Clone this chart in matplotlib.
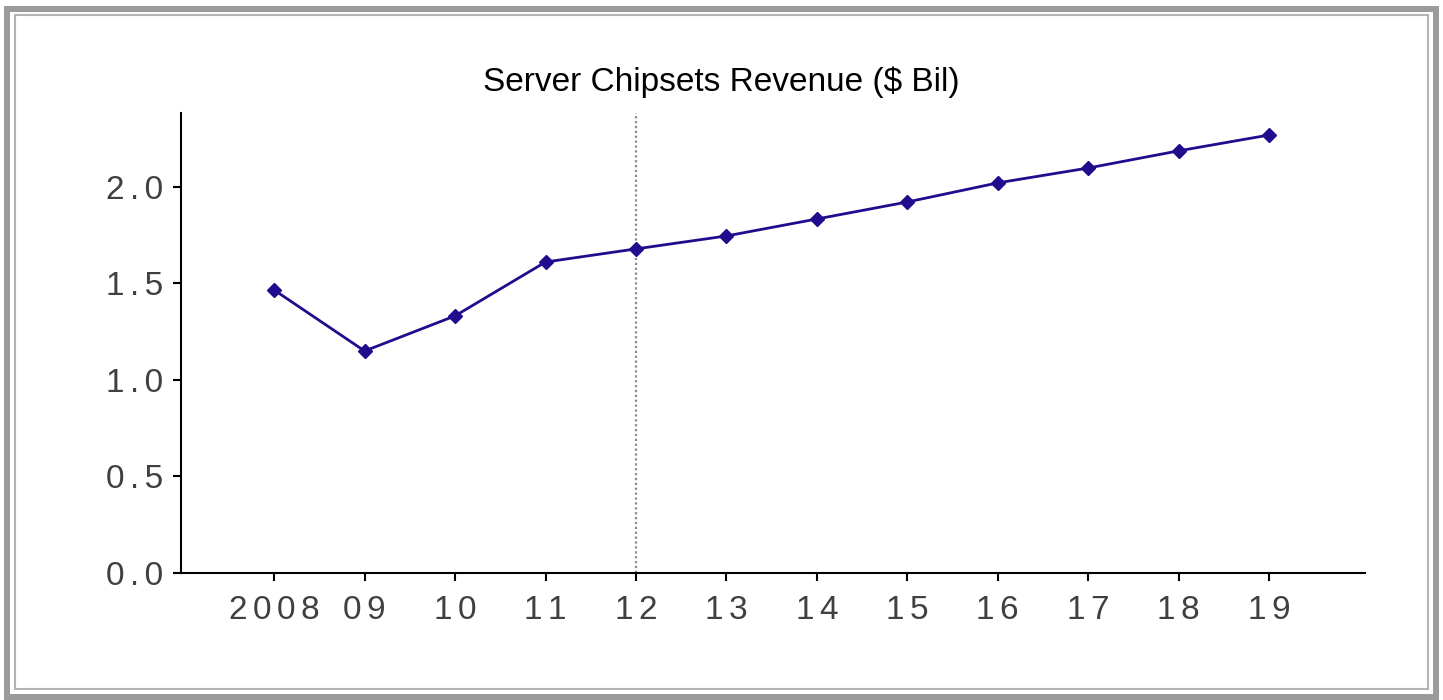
import matplotlib
matplotlib.use("Agg")
import matplotlib.pyplot as plt
from matplotlib.patches import Rectangle

plt.rcParams['font.family'] = ['Liberation Sans', 'DejaVu Sans']

# ---- data ----
years = ["2008", "09", "10", "11", "12", "13", "14", "15", "16", "17", "18", "19"]
revenue = [1.466, 1.150, 1.332, 1.611, 1.679, 1.746, 1.834, 1.922, 2.021, 2.098, 2.187, 2.269]
yticks = [0.0, 0.5, 1.0, 1.5, 2.0]
ytick_labels = ["0.0", "0.5", "1.0", "1.5", "2.0"]
forecast_start = "12"
title = "Server Chipsets Revenue ($ Bil)"

W, H = 1443, 700
fig = plt.figure(figsize=(W / 100, H / 100), dpi=100)


def px_rect(x0, y0, x1, y1, **kw):
    return Rectangle((x0 / W, 1 - y1 / H), (x1 - x0) / W, (y1 - y0) / H,
                     transform=fig.transFigure, **kw)


# frame
fig.patches.append(px_rect(4, 6, 1439, 700, facecolor="#9b9b9b", edgecolor="none", zorder=-10))
fig.patches.append(px_rect(10, 12, 1433, 694, facecolor="white", edgecolor="none", zorder=-9))
fig.patches.append(px_rect(15, 15, 1428, 689, facecolor="none", edgecolor="#b4b4b4", linewidth=1.5, zorder=-8))

ax = fig.add_axes([181 / W, 1 - 573 / H, (1365 - 181) / W, (573 - 113) / H])
ax.set_facecolor("none")
ax.set_zorder(5)

x = list(range(len(years)))
ax.plot(x, revenue, color="#220C8E", linewidth=2.0, marker="D", markersize=7.5,
        markerfacecolor="#220C8E", markeredgecolor="#220C8E", zorder=3)

fx = years.index(forecast_start)
ax.axvline(fx, color="#8a8a8a", linestyle=(0, (1, 1.2)), linewidth=1.6, zorder=2)

ax.set_xlim(-1.03, len(years) - 1 + 1.06)
ax.set_ylim(0, 2.383)


def spaced(s):
    return "\u200a\u200a".join(s)


ax.set_xticks(x)
ax.set_xticklabels([spaced(s) for s in years])
ax.set_yticks(yticks)
ax.set_yticklabels([spaced(s) for s in ytick_labels])

for side in ["top", "right"]:
    ax.spines[side].set_visible(False)
for side in ["left", "bottom"]:
    ax.spines[side].set_linewidth(1.5)
    ax.spines[side].set_color("black")

ax.tick_params(axis="both", direction="out", length=6, width=1.5, color="black",
               labelcolor="#404040", labelsize=24)
ax.tick_params(axis="x", pad=10)
ax.tick_params(axis="y", pad=7)

fig.text(0.5, 1 - 82 / H, title, ha="center", va="center", fontsize=24, color="black", zorder=6)

fig.savefig("out.png", dpi=100)
